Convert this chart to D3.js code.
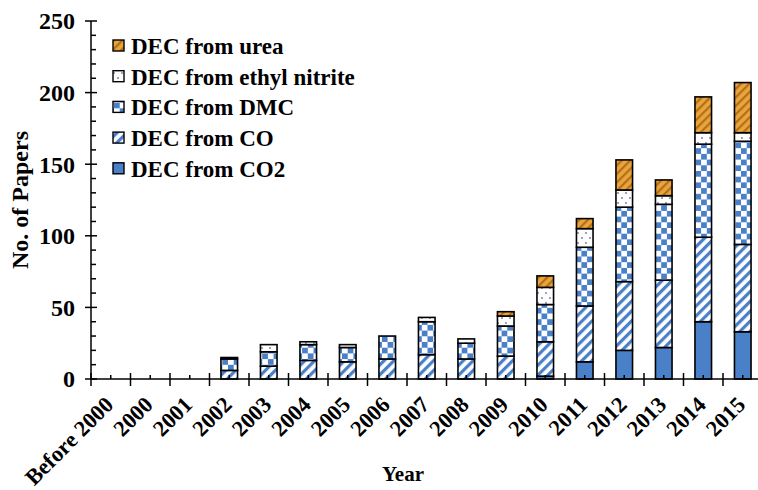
<!DOCTYPE html>
<html><head><meta charset="utf-8">
<script src="https://cdn.jsdelivr.net/npm/d3@7"></script>
<style>body{margin:0;background:#fff}svg{display:block}text{font-family:"Liberation Serif","Times New Roman",serif;font-weight:bold;fill:#000}</style>
</head><body><svg id="c" width="758" height="490"></svg>
<script>
const categories = ["Before 2000","2000","2001","2002","2003","2004","2005","2006","2007","2008","2009","2010","2011","2012","2013","2014","2015"];
const decCO2   = [0,0,0,0,0,0,0,0,0,0,0,2,12,20,22,40,33];
const decCO    = [0,0,0,6,9,13,12,14,17,14,16,24,39,48,47,59,61];
const decDMC   = [0,0,0,8,10,11,10,16,23,11,21,26,41,52,53,65,72];
const decEN    = [0,0,0,1,5,2,2,0,3,3,7,12,13,12,6,8,6];
const decUrea  = [0,0,0,0,0,0,0,0,0,0,3,8,7,21,11,25,35];
const seriesNames = ["DEC from CO2","DEC from CO","DEC from DMC","DEC from ethyl nitrite","DEC from urea"];
const yTicks = [0,50,100,150,200,250];

const svg = d3.select("#c");
const blue = "#4a80c8";
const defs = svg.append("defs");
let p = defs.append("pattern").attr("id","pCO").attr("patternUnits","userSpaceOnUse")
  .attr("width",7).attr("height",7).attr("patternTransform","rotate(45)");
p.append("rect").attr("width",7).attr("height",7).attr("fill","#fff");
p.append("rect").attr("width",3.2).attr("height",7).attr("fill",blue);
p = defs.append("pattern").attr("id","pDMC").attr("patternUnits","userSpaceOnUse").attr("width",11.4).attr("height",11.4);
p.append("rect").attr("width",11.4).attr("height",11.4).attr("fill","#fff");
p.append("rect").attr("width",5.7).attr("height",5.7).attr("fill",blue);
p.append("rect").attr("x",5.7).attr("y",5.7).attr("width",5.7).attr("height",5.7).attr("fill",blue);
p = defs.append("pattern").attr("id","pEN").attr("patternUnits","userSpaceOnUse").attr("width",8).attr("height",10);
p.append("rect").attr("width",8).attr("height",10).attr("fill","#fff");
p.append("circle").attr("cx",2).attr("cy",3).attr("r",0.9).attr("fill","#6a7a99");
p.append("circle").attr("cx",6).attr("cy",8).attr("r",0.9).attr("fill","#6a7a99");
p = defs.append("pattern").attr("id","pUrea").attr("patternUnits","userSpaceOnUse")
  .attr("width",6).attr("height",6).attr("patternTransform","rotate(45)");
p.append("rect").attr("width",6).attr("height",6).attr("fill","#eba43a");
p.append("rect").attr("width",2.2).attr("height",6).attr("fill","#b06f1c");

const fills = ["#4a80c8","url(#pCO)","url(#pDMC)","url(#pEN)","url(#pUrea)"];

const x = d3.scaleBand().domain(categories).range([91, 91 + 39.5*17]).padding(0);
const y = d3.scaleLinear().domain([0,250]).range([379,21]);

const table = categories.map((c,i)=>({cat:c, v:[decCO2[i],decCO[i],decDMC[i],decEN[i],decUrea[i]]}));
const stack = d3.stack().keys([0,1,2,3,4]).value((d,k)=>d.v[k]);
const layers = stack(table);

const bw = x.bandwidth()*0.42;
const gBars = svg.append("g");
layers.forEach((layer,k)=>{
  gBars.selectAll(null).data(layer.filter(d=>d[1]-d[0]>0)).enter().append("rect")
    .attr("x",d=>x(d.data.cat)+(x.bandwidth()-bw)/2)
    .attr("width",bw)
    .attr("y",d=>y(d[1]))
    .attr("height",d=>y(d[0])-y(d[1]))
    .attr("fill",fills[k]).attr("stroke","#000").attr("stroke-width",1.6);
});

const ax = svg.append("g").attr("stroke","#000").attr("stroke-width",1.5);
ax.append("line").attr("x1",91).attr("x2",91).attr("y1",y(250)).attr("y2",y(0));
ax.append("line").attr("x1",91).attr("x2",758).attr("y1",y(0)).attr("y2",y(0));
d3.range(0,251,10).forEach(v=>{
  const major = v%50===0;
  ax.append("line").attr("x1",major?85:91).attr("x2",major?97:96).attr("y1",y(v)).attr("y2",y(v));
});
categories.forEach((c,i)=>{
  const bx = x(c);
  ax.append("line").attr("x1",bx).attr("x2",bx).attr("y1",y(0)-6).attr("y2",y(0)+7);
  const cx = bx + x.bandwidth()/2;
  ax.append("line").attr("x1",cx).attr("x2",cx).attr("y1",y(0)-4).attr("y2",y(0));
});

svg.append("g").selectAll("text").data(yTicks).enter().append("text")
  .attr("x",75).attr("y",d=>y(d)).attr("dy","0.35em").attr("text-anchor","end")
  .attr("font-size",24).text(d=>d);

svg.append("g").selectAll("text").data(categories).enter().append("text")
  .attr("text-anchor","end").attr("font-size",22.5)
  .attr("transform",d=>`translate(${x(d)+x.bandwidth()/2+4},${406}) rotate(-45)`)
  .text(d=>d);

svg.append("text").attr("x",403).attr("y",481).attr("text-anchor","middle").attr("font-size",21).text("Year");
svg.append("text").attr("transform","translate(28,200) rotate(-90)").attr("text-anchor","middle").attr("font-size",24).text("No. of Papers");

const legOrder = [4,3,2,1,0];
const lg = svg.append("g");
legOrder.forEach((k,i)=>{
  const yy = 46 + i*30.7;
  lg.append("rect").attr("x",113).attr("y",yy-6).attr("width",11).attr("height",11)
    .attr("fill",fills[k]).attr("stroke","#000").attr("stroke-width",1.4);
  lg.append("text").attr("x",131).attr("y",yy).attr("dy","0.35em").attr("font-size",23).text(seriesNames[k]);
});
</script></body></html>
